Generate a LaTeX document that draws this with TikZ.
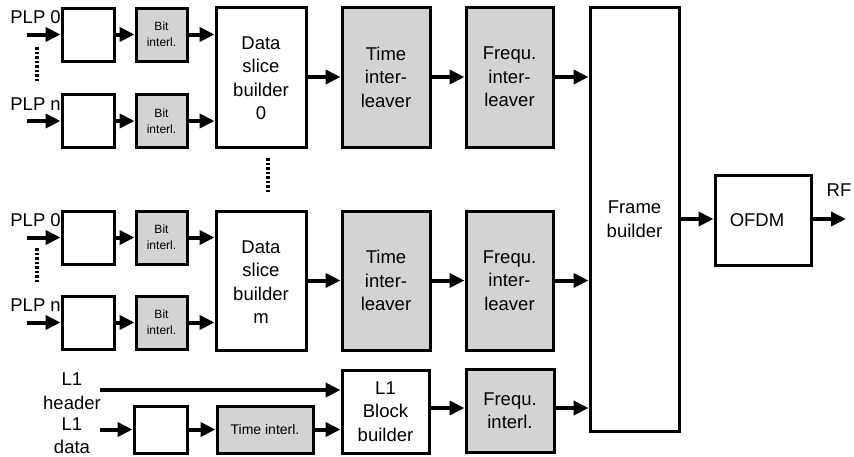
\documentclass[tikz,border=0pt]{standalone}
\usepackage{fontspec}
\setmainfont{Liberation Sans}
\usetikzlibrary{arrows.meta,positioning}

\definecolor{colorBox}{HTML}{D3D3D3}
\def\colorBox{colorBox}

\begin{document}
\begin{tikzpicture}[x=1pt, y=-1pt,
    blk/.style={draw, line width=3pt, fill=white, align=center, inner sep=0pt,
        font=\fontsize{18.5}{23.5}\selectfont},
    gblk/.style={blk, fill=\colorBox},
    sig/.style={line width=4pt, -{Triangle[length=15pt,width=14pt]}},
    lbl/.style={inner sep=0pt, align=center, font=\fontsize{18.5}{23.5}\selectfont},
    dots/.style={line width=3.5pt, dash pattern=on 2.5pt off 2pt}]

    \useasboundingbox (0,0) rectangle (854,456);

    % Eingaenge PLP
    \foreach \r/\y/\t in {1/34.5/0, 2/121/n, 3/237.5/0, 4/322.5/n} {
        \node[blk, minimum width=52pt, minimum height=53pt] (w\r) at (88,\y) {};
        \node[gblk, minimum width=51pt, minimum height=53pt, font=\fontsize{12}{16}\selectfont]
            (b\r) at (161.5,\y) {Bit\\interl.};
        \node[lbl, anchor=base east] (p\r) at (61,\y-11) {PLP \t};
        \coordinate (in\r) at (27,\y);
    }

    % Data slices
    \node[blk, minimum width=90pt, minimum height=140pt] (ds0) at (261,77) {\\[-8pt]Data\\slice\\builder\\0};
    \node[gblk, minimum width=88pt, minimum height=140pt] (ti0) at (386,77) {Time\\inter-\\leaver};
    \node[gblk, minimum width=87pt, minimum height=140pt] (fi0) at (509.5,77) {Frequ.\\inter-\\leaver};

    \node[blk, minimum width=90pt, minimum height=139pt] (dsm) at (261,280.5) {\\[-8pt]Data\\slice\\builder\\m};
    \node[gblk, minimum width=88pt, minimum height=139pt] (tim) at (386,280.5) {Time\\inter-\\leaver};
    \node[gblk, minimum width=87pt, minimum height=139pt] (fim) at (509.5,280.5) {Frequ.\\inter-\\leaver};

    % L1
    \node[lbl] (hdr) at (72,391) {L1\\header};
    \node[lbl] (dat) at (72,435.5) {L1\\data};
    \coordinate (hin) at (100,390);
    \coordinate (din) at (100,429.5);
    \node[blk, minimum width=53pt, minimum height=47pt] (l1w) at (160.5,429.5) {};
    \node[gblk, minimum width=96pt, minimum height=47pt, font=\fontsize{14}{16}\selectfont]
        (l1t) at (265,429.5) {Time interl.};
    \node[blk, minimum width=87pt, minimum height=83pt] (l1b) at (385.5,411.5) {L1\\Block\\builder};
    \node[gblk, minimum width=88pt, minimum height=83pt] (l1f) at (510,410.5) {Frequ.\\interl.};

    % Frame + OFDM
    \node[blk, minimum width=89pt, minimum height=424pt] (fb) at (634.5,219) {Frame\\builder};
    \node[blk, minimum width=96pt, minimum height=90pt] (ofdm) at (763,220) {OFDM\hspace*{12pt}};
    \coordinate (rf) at (846,219);
    \node[lbl] (rft) at (839,190) {RF};

    % Pfeile
    \foreach \r/\d in {1/ds0, 2/ds0, 3/dsm, 4/dsm} {
        \draw[sig] (in\r) -- (w\r);
        \draw[sig] (w\r) -- (b\r);
        \draw[sig] (b\r) -- (b\r -| \d.west);
    }
    \draw[sig] (ds0) -- (ti0);
    \draw[sig] (ti0) -- (fi0);
    \draw[sig] (fi0) -- (fi0 -| fb.west);
    \draw[sig] (dsm) -- (tim);
    \draw[sig] (tim) -- (fim);
    \draw[sig] (fim) -- (fim -| fb.west);

    \draw[sig] (hin) -- (hin -| l1b.west);
    \draw[sig] (din) -- (l1w);
    \draw[sig] (l1w) -- (l1t);
    \draw[sig] (l1t) -- (l1t -| l1b.west);
    \draw[sig] (l1b.east |- 0,408) -- (l1f.west |- 0,408);
    \draw[sig] (l1f.east |- 0,408) -- (fb.west |- 0,408);

    \draw[sig] (fb.east |- rf) -- (ofdm.west |- rf);
    \draw[sig] (ofdm.east |- rf) -- (rf);

    % Punkte
    \draw[dots] (37,47) -- (37,82);
    \draw[dots] (37,248) -- (37,282);
    \draw[dots] (268,158) -- (268,193);
\end{tikzpicture}
\end{document}
